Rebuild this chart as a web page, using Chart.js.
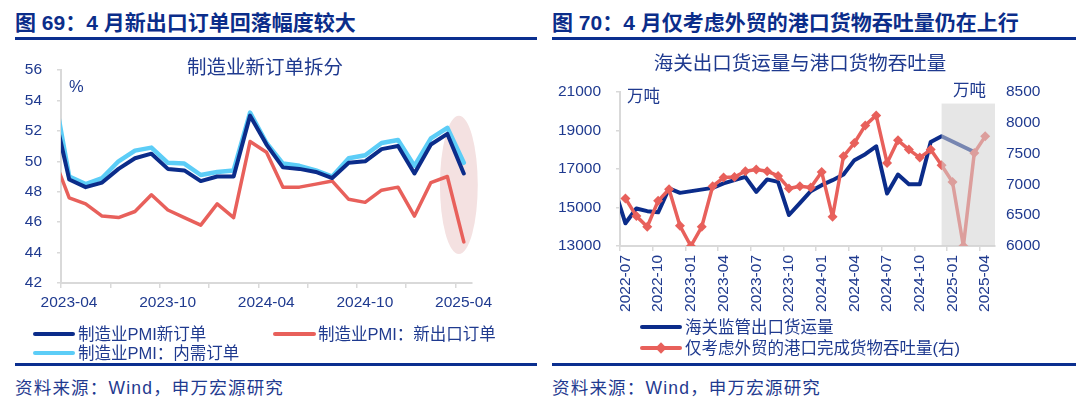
<!DOCTYPE html>
<html>
<head>
<meta charset="utf-8">
<script src="https://cdn.jsdelivr.net/npm/chart.js@4.4.1/dist/chart.umd.min.js"></script>
<style>
  body { margin: 0; width: 1080px; height: 399px; background: #fff; position: relative; overflow: hidden;
         font-family: "Liberation Sans", "Noto Sans CJK SC", sans-serif; color: #1F3A8F; }
  .abs { position: absolute; white-space: nowrap; }
  .head { font-weight: bold; font-size: 21px; line-height: 26px; top: 10px; color: #0B2D8A; }
  .rule { position: absolute; height: 3px; background: #0B2F8F; }
  .src { font-size: 17.5px; line-height: 22px; top: 377px; letter-spacing: 1.2px; }
  .ctitle { font-size: 19.5px; line-height: 24px; text-align: center; }
  .lg { font-size: 16.5px; line-height: 20px; }
  .unit { font-size: 16.5px; line-height: 20px; }
  .sw { position: absolute; height: 4px; border-radius: 2px; }
  canvas { position: absolute; }
</style>
</head>
<body>

<div class="abs head" style="left:15px">图 69：4 月新出口订单回落幅度较大</div>
<div class="abs head" style="left:552px">图 70：4 月仅考虑外贸的港口货物吞吐量仍在上行</div>
<div class="rule" style="left:15px;width:522px;top:37px"></div>
<div class="rule" style="left:552px;width:524px;top:37px"></div>

<canvas id="pmiChart" width="540" height="280" style="left:0;top:40px"></canvas>
<canvas id="portChart" width="535" height="285" style="left:545px;top:40px"></canvas>

<div class="abs ctitle" style="left:165px;width:200px;top:55px">制造业新订单拆分</div>
<div class="abs unit" style="left:69px;top:76px">%</div>
<div class="abs ctitle" style="left:650px;width:300px;top:51px">海关出口货运量与港口货物吞吐量</div>
<div class="abs unit" style="left:627px;top:86px">万吨</div>
<div class="abs unit" style="left:953px;top:80px">万吨</div>

<div class="sw" style="left:33px;width:42px;top:332px;background:#0B2C8A"></div>
<div class="abs lg" style="left:78px;top:324px">制造业PMI新订单</div>
<div class="sw" style="left:273px;width:43px;top:332px;background:#E8605B"></div>
<div class="abs lg" style="left:318px;top:324px">制造业PMI：新出口订单</div>
<div class="sw" style="left:33px;width:42px;top:351px;background:#5CCDF7"></div>
<div class="abs lg" style="left:78px;top:343px">制造业PMI：内需订单</div>

<div class="sw" style="left:640px;width:42px;top:325px;background:#0B2C8A"></div>
<div class="abs lg" style="left:685px;top:317px">海关监管出口货运量</div>
<div class="sw" style="left:640px;width:42px;top:346px;background:#E8605B"></div>
<div class="abs" style="left:657px;top:344px;width:8px;height:8px;background:#E8605B;transform:rotate(45deg)"></div>
<div class="abs lg" style="left:685px;top:338px">仅考虑外贸的港口完成货物吞吐量(右)</div>

<div class="rule" style="left:15px;width:522px;top:363px"></div>
<div class="rule" style="left:552px;width:524px;top:363px"></div>
<div class="abs src" style="left:15px">资料来源：Wind，申万宏源研究</div>
<div class="abs src" style="left:552px">资料来源：Wind，申万宏源研究</div>

<script>
// left chart: PMI new orders split (monthly, first month sits just before the axis start)
const pmiMonths = [
  '2023-03', '2023-04', '2023-05', '2023-06', '2023-07', '2023-08', '2023-09', '2023-10', '2023-11', '2023-12',
  '2024-01', '2024-02', '2024-03', '2024-04', '2024-05', '2024-06', '2024-07', '2024-08', '2024-09', '2024-10',
  '2024-11', '2024-12', '2025-01', '2025-02', '2025-03', '2025-04'
];
const pmiNewOrders = [53.6, 48.8, 48.3, 48.6, 49.5, 50.2, 50.5, 49.5, 49.4, 48.7,
  49.0, 49.0, 53.0, 51.1, 49.6, 49.5, 49.3, 48.9, 49.9, 50.0, 50.8, 51.0, 49.2, 51.1, 51.8, 49.2];
const pmiExportOrders = [50.4, 47.6, 47.2, 46.4, 46.3, 46.7, 47.8, 46.8, 46.3, 45.8,
  47.2, 46.3, 51.3, 50.6, 48.3, 48.3, 48.5, 48.7, 47.5, 47.3, 48.1, 48.3, 46.4, 48.6, 49.0, 44.7];
const pmiDomesticOrders = [55.0, 49.0, 48.5, 48.9, 50.0, 50.7, 50.9, 49.9, 49.85, 49.1,
  49.3, 49.4, 53.2, 51.2, 49.85, 49.7, 49.4, 49.0, 50.2, 50.4, 51.2, 51.4, 49.7, 51.5, 52.2, 49.9];
const pmiTickLabels = ['2023-04', '2023-10', '2024-04', '2024-10', '2025-04'];

// right chart: customs export freight vs port foreign-trade throughput
const portMonths = [
  '2022-06', '2022-07', '2022-08', '2022-09', '2022-10', '2022-11', '2022-12',
  '2023-01', '2023-02', '2023-03', '2023-04', '2023-05', '2023-06', '2023-07', '2023-08', '2023-09', '2023-10', '2023-11', '2023-12',
  '2024-01', '2024-02', '2024-03', '2024-04', '2024-05', '2024-06', '2024-07', '2024-08', '2024-09', '2024-10', '2024-11', '2024-12',
  '2025-01', '2025-02', '2025-03', '2025-04'
];
const exportFreight = [15950, 14180, 14950, 14810, 14750, 15990, 15760,
  null, null, 16020, 16250, 16420, 16590, 15810, 16460, 16330, 14610, 15230, 15850,
  16160, 16420, 16715, 17460, 17770, 18180, 15730, 16715, 16210, 16210, 18400, 18700,
  null, null, 17880, null];
const portThroughput = [null, 6772, 6485, 6312, 6733, 6922, 6328,
  6000, 6312, 6971, 7111, 7121, 7214, 7241, 7214, 7138, 6934, 6971, 6950,
  7202, 6474, 7456, 7672, 7958, 8120, 7348, 7715, 7565, 7435, 7565, 7311,
  7040, 6000, 7510, 7780];
const portTickLabels = ['2022-07', '2022-10', '2023-01', '2023-04', '2023-07', '2023-10',
  '2024-01', '2024-04', '2024-07', '2024-10', '2025-01', '2025-04'];

const textColor = '#1F3A8F';
const axisGrey = '#D9D9D9';
Chart.defaults.font.family = '"Liberation Sans", "Noto Sans CJK SC", sans-serif';
Chart.defaults.font.size = 15.5;
Chart.defaults.color = textColor;

// months from the axis start, plotted in the middle of the month
function monthStart(label, start) {
  const [y, m] = label.split('-').map(Number);
  const [y0, m0] = start.split('-').map(Number);
  return (y - y0) * 12 + (m - m0);
}
const toPoints = (months, values, start) =>
  months.map((mo, i) => ({ x: monthStart(mo, start) + 0.5, y: values[i] }));

function tickSetup(labels, start, step) {
  const values = [];
  const last = monthStart(labels[labels.length - 1], start);
  for (let v = 0; v <= last; v += step) values.push(v);
  const names = {};
  labels.forEach(l => { names[monthStart(l, start)] = l; });
  return { values, names };
}

const pmiTicks = tickSetup(pmiTickLabels, '2023-04', 3);
const portTicks = tickSetup(portTickLabels, '2022-07', 3);

const pmiEllipse = {
  id: 'pmiEllipse',
  beforeDatasetsDraw(chart) {
    const { ctx, scales: { x, y } } = chart;
    const cx = x.getPixelForValue(24.2);
    const rx = x.getPixelForValue(25.35) - cx;
    const top = y.getPixelForValue(53.0);
    const bottom = y.getPixelForValue(43.9);
    ctx.save();
    ctx.fillStyle = '#F4E1E1';
    ctx.beginPath();
    ctx.ellipse(cx, (top + bottom) / 2, rx, (bottom - top) / 2, 0, 0, Math.PI * 2);
    ctx.fill();
    ctx.restore();
  }
};

const portShade = {
  id: 'portShade',
  afterDatasetsDraw(chart) {
    const { ctx, chartArea, scales: { x, y } } = chart;
    const left = x.getPixelForValue(29.5);
    const top = y.getPixelForValue(20400);
    ctx.save();
    ctx.fillStyle = 'rgba(210,210,210,0.55)';
    ctx.fillRect(left, top, chartArea.right - left, chartArea.bottom - top);
    ctx.restore();
  }
};

const lineStyle = { pointRadius: 0, borderJoinStyle: 'round', borderCapStyle: 'round', tension: 0 };

new Chart(document.getElementById('pmiChart'), {
  type: 'line',
  data: {
    datasets: [
      { ...lineStyle, label: '制造业PMI新订单', data: toPoints(pmiMonths, pmiNewOrders, '2023-04'),
        borderColor: '#0B2C8A', borderWidth: 4, order: 0 },
      { ...lineStyle, label: '制造业PMI：新出口订单', data: toPoints(pmiMonths, pmiExportOrders, '2023-04'),
        borderColor: '#E8605B', borderWidth: 3.5, order: 2 },
      { ...lineStyle, label: '制造业PMI：内需订单', data: toPoints(pmiMonths, pmiDomesticOrders, '2023-04'),
        borderColor: '#5CCDF7', borderWidth: 4.5, order: 1 }
    ]
  },
  options: {
    responsive: false,
    animation: false,
    layout: { padding: { top: 30, right: 68, left: 0, bottom: 0 } },
    plugins: { legend: { display: false }, tooltip: { enabled: false } },
    scales: {
      x: {
        type: 'linear', min: 0, max: 25,
        afterBuildTicks: s => { s.ticks = pmiTicks.values.map(v => ({ value: v })); },
        afterFit: s => { s.height = 37; },
        ticks: { autoSkip: false, maxRotation: 0, labelOffset: 8, padding: 5,
          callback: v => pmiTicks.names[v] || '' },
        grid: { drawOnChartArea: false, tickLength: 5, color: axisGrey, lineWidth: 1.5 },
        border: { color: axisGrey, width: 2 }
      },
      y: {
        min: 42, max: 56,
        afterFit: s => { s.width = 61; },
        ticks: { stepSize: 2, padding: 15 },
        grid: { drawOnChartArea: false, tickLength: 4, color: axisGrey, lineWidth: 1.5 },
        border: { color: axisGrey, width: 2 }
      }
    }
  },
  plugins: [pmiEllipse]
});

new Chart(document.getElementById('portChart'), {
  type: 'line',
  data: {
    datasets: [
      { ...lineStyle, label: '海关监管出口货运量', data: toPoints(portMonths, exportFreight, '2022-07'),
        yAxisID: 'y', borderColor: '#0B2C8A', borderWidth: 4, spanGaps: true, order: 1 },
      { ...lineStyle, label: '仅考虑外贸的港口完成货物吞吐量(右)', data: toPoints(portMonths, portThroughput, '2022-07'),
        yAxisID: 'y1', borderColor: '#E8605B', borderWidth: 3.5, order: 0,
        pointStyle: 'rectRot', pointRadius: 5, pointBackgroundColor: '#E8605B', pointBorderWidth: 0 }
    ]
  },
  options: {
    responsive: false,
    animation: false,
    layout: { padding: { top: 52, right: 0, left: 0, bottom: 0 } },
    plugins: { legend: { display: false }, tooltip: { enabled: false } },
    scales: {
      x: {
        type: 'linear', min: 0, max: 34.4,
        afterBuildTicks: s => { s.ticks = portTicks.values.map(v => ({ value: v })); },
        afterFit: s => { s.height = 79; },
        ticks: { autoSkip: false, minRotation: 90, maxRotation: 90, labelOffset: 5.45, padding: 4,
          callback: v => portTicks.names[v] || '' },
        grid: { drawOnChartArea: false, tickLength: 5, color: axisGrey, lineWidth: 1.5 },
        border: { color: axisGrey, width: 2 }
      },
      y: {
        position: 'left', min: 13000, max: 21000,
        afterFit: s => { s.width = 75; },
        ticks: { stepSize: 2000, padding: 15, callback: v => String(v) },
        grid: { drawOnChartArea: false, tickLength: 4, color: axisGrey, lineWidth: 1.5 },
        border: { color: axisGrey, width: 2 }
      },
      y1: {
        position: 'right', min: 6000, max: 8500,
        afterFit: s => { s.width = 85; },
        ticks: { stepSize: 500, padding: 11, callback: v => String(v) },
        grid: { drawOnChartArea: false, drawTicks: false },
        border: { display: false }
      }
    }
  },
  plugins: [portShade]
});
</script>
</body>
</html>
